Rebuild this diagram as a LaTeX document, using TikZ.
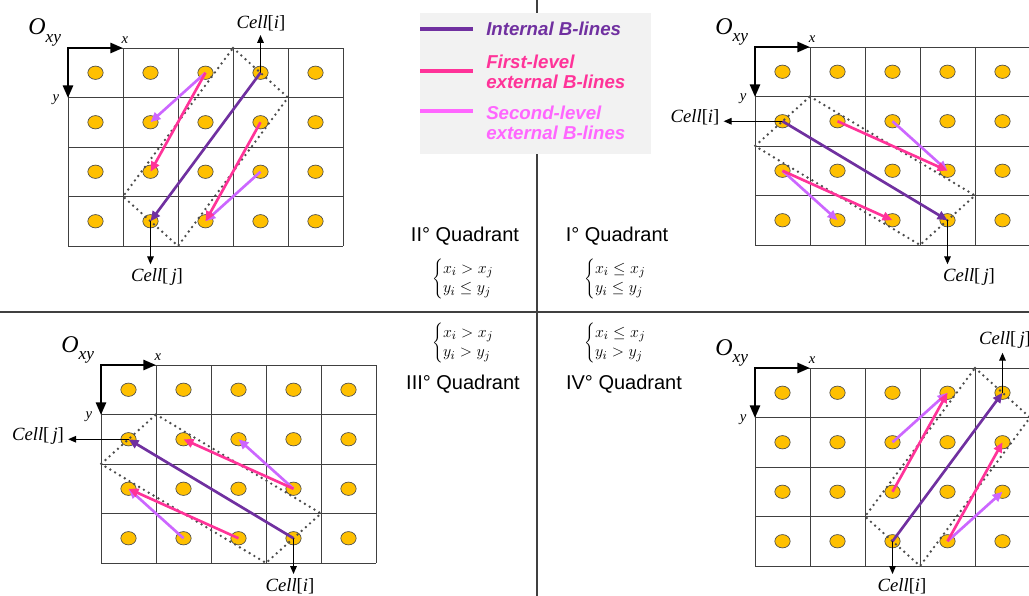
\documentclass[tikz,border=0pt]{standalone}
\usepackage{fontspec}
\setmainfont{Liberation Sans}
\newfontfamily\cellfont{Liberation Serif}
\usetikzlibrary{arrows.meta,shapes.geometric,positioning}

\definecolor{intline}{HTML}{7030A0}
\definecolor{firstline}{HTML}{FF3399}
\definecolor{secline}{HTML}{CC66FF}
\definecolor{sectext}{HTML}{FF66FF}
\definecolor{dotfill}{HTML}{FFC000}
\definecolor{legendbg}{HTML}{F2F2F2}

\tikzset{
    dot/.style={ellipse,draw=black!70,fill=dotfill,line width=0.5pt,
        minimum width=11.5pt,minimum height=10pt,inner sep=0pt},
    gridline/.style={black!75,line width=0.7pt},
    axis/.style={line width=2pt,
        {Triangle[length=9.5pt,width=7.5pt]}-{Triangle[length=9.5pt,width=7.5pt]}},
    axlabel/.style={font=\cellfont\itshape\fontsize{11}{12}\selectfont,inner sep=0pt},
    origin/.style={anchor=base west,inner sep=0pt,font=\cellfont\itshape\fontsize{18}{19}\selectfont},
    bbox/.style={black!70,line width=2pt,dash pattern=on 0pt off 4.2pt,line cap=round},
    blarrow/.style={line width=2pt,-{Triangle[length=7.5pt,width=6.5pt]}},
    intarrow/.style={blarrow,intline},
    firstarrow/.style={blarrow,firstline},
    secarrow/.style={blarrow,secline},
    cellarrow/.style={line width=0.8pt,-{Triangle[length=6pt,width=5pt]},shorten >=2pt},
    celllabel/.style={font=\cellfont\fontsize{14}{15}\selectfont,inner sep=1pt},
    quadlabel/.style={font=\fontsize{15}{16}\selectfont},
    cond/.style={anchor=west,inner sep=0pt,font=\fontsize{12.5}{14}\selectfont},
    legtext/.style={anchor=west,align=left,inner sep=0pt,
        font=\bfseries\itshape\fontsize{14}{15}\selectfont},
    divider/.style={black!75,line width=1.2pt}
}

% one 4x5 cell grid with its axes: name, left, top
\newcommand\cellgrid[3]{%
    \begin{scope}[shift={(#2,#3)}]
        \foreach \c in {0,...,5} \draw[gridline] (\c*55,0) -- (\c*55,198);
        \foreach \r in {0,...,4} \draw[gridline] (0,\r*49.5) -- (275,\r*49.5);
        \foreach \r in {0,...,4} \foreach \c in {0,...,5}
            \coordinate (#1-g\c\r) at (\c*55,\r*49.5);
        \foreach \r in {0,...,3} \foreach \c in {0,...,4}
            \node[dot] (#1-\r-\c) at (\c*55+27.5,\r*49.5+24.75) {};
        \coordinate (#1-o) at (0,0);
        \coordinate (#1-xt) at (55,0);
        \coordinate (#1-yt) at (0,50);
        \draw[axis] (#1-xt) -- (#1-o) -- (#1-yt);
        \node[axlabel] (#1-xl) at (57,-8) {x};
        \node[axlabel] (#1-yl) at (-12,52) {y};
        \node[origin] (#1-oxy) at (-40,-13) {O\raisebox{-0.3em}{\fontsize{13}{14}\selectfont xy}};
    \end{scope}}

\newcommand\celltext[1]{\textit{Cell}[\textit{#1}]}

\begin{document}
\begin{tikzpicture}[x=0.75pt,y=-0.75pt]
    \useasboundingbox (0,0) rectangle (1029,596);

    % quadrant dividers and legend
    \draw[divider] (537,0) -- (537,596);
    \draw[divider] (0,312) -- (1029,312);
    \fill[legendbg] (420,13) rectangle (651,154);
    \draw[intline,line width=2.3pt] (420,29) -- (473,29);
    \draw[firstline,line width=2.3pt] (420,71) -- (473,71);
    \draw[sectext,line width=2.3pt] (420,111) -- (473,111);
    \node[legtext,text=intline] (leg-int) at (486,29) {Internal B-lines};
    \node[legtext,text=firstline] (leg-first) at (486,72) {First-level\\external B-lines};
    \node[legtext,text=sectext] (leg-sec) at (486,123) {Second-level\\external B-lines};

    % quadrant names and conditions
    \node[quadlabel] (lab-q2) at (465,236) {II° Quadrant};
    \node[quadlabel] (lab-q1) at (617,236) {I° Quadrant};
    \node[quadlabel] (lab-q3) at (463,384) {III° Quadrant};
    \node[quadlabel] (lab-q4) at (624,384) {IV° Quadrant};
    \node[cond] (cond-q2) at (432,279) {$\def\arraystretch{1.05}\left\{\begin{array}{@{}l@{}}x_i > x_j\\ y_i \leq y_j\end{array}\right.$};
    \node[cond] (cond-q1) at (584,279) {$\def\arraystretch{1.05}\left\{\begin{array}{@{}l@{}}x_i \leq x_j\\ y_i \leq y_j\end{array}\right.$};
    \node[cond] (cond-q3) at (432,343) {$\def\arraystretch{1.05}\left\{\begin{array}{@{}l@{}}x_i > x_j\\ y_i > y_j\end{array}\right.$};
    \node[cond] (cond-q4) at (584,343) {$\def\arraystretch{1.05}\left\{\begin{array}{@{}l@{}}x_i \leq x_j\\ y_i > y_j\end{array}\right.$};

    % II quadrant
    \cellgrid{q2}{68}{48}
    \draw[bbox] (q2-g30) -- (q2-g41) -- (q2-g24) -- (q2-g13) -- cycle;
    \node[celllabel] (q2-ci) at (261,23) {\celltext{i}};
    \node[celllabel] (q2-cj) at (157,277) {\celltext{\,j}};
    \draw[cellarrow] (q2-0-3.center) -- (q2-0-3 |- q2-ci.south);
    \draw[cellarrow] (q2-3-1.center) -- (q2-3-1 |- q2-cj.north);
    \draw[secarrow] (q2-0-2.center) -- (q2-1-1.center);
    \draw[secarrow] (q2-2-3.center) -- (q2-3-2.center);
    \draw[firstarrow] (q2-0-2.center) -- (q2-2-1.center);
    \draw[firstarrow] (q2-1-3.center) -- (q2-3-2.center);
    \draw[intarrow] (q2-0-3.center) -- (q2-3-1.center);

    % I quadrant
    \cellgrid{q1}{755}{47}
    \draw[bbox] (q1-g11) -- (q1-g43) -- (q1-g34) -- (q1-g02) -- cycle;
    \node[celllabel] (q1-ci) at (695,117) {\celltext{i}};
    \node[celllabel] (q1-cj) at (969,277) {\celltext{\,j}};
    \draw[cellarrow] (q1-1-0.center) -- (q1-1-0 -| q1-ci.east);
    \draw[cellarrow] (q1-3-3.center) -- (q1-3-3 |- q1-cj.north);
    \draw[secarrow] (q1-1-2.center) -- (q1-2-3.center);
    \draw[secarrow] (q1-2-0.center) -- (q1-3-1.center);
    \draw[firstarrow] (q1-1-1.center) -- (q1-2-3.center);
    \draw[firstarrow] (q1-2-0.center) -- (q1-3-2.center);
    \draw[intarrow] (q1-1-0.center) -- (q1-3-3.center);

    % III quadrant
    \cellgrid{q3}{101}{365}
    \draw[bbox] (q3-g11) -- (q3-g43) -- (q3-g34) -- (q3-g02) -- cycle;
    \node[celllabel] (q3-cj) at (38,436) {\celltext{\,j}};
    \node[celllabel] (q3-ci) at (290,586) {\celltext{i}};
    \draw[cellarrow] (q3-1-0.center) -- (q3-1-0 -| q3-cj.east);
    \draw[cellarrow] (q3-3-3.center) -- (q3-3-3 |- q3-ci.north);
    \draw[secarrow] (q3-2-3.center) -- (q3-1-2.center);
    \draw[secarrow] (q3-3-1.center) -- (q3-2-0.center);
    \draw[firstarrow] (q3-2-3.center) -- (q3-1-1.center);
    \draw[firstarrow] (q3-3-2.center) -- (q3-2-0.center);
    \draw[intarrow] (q3-3-3.center) -- (q3-1-0.center);

    % IV quadrant
    \cellgrid{q4}{755}{368}
    \draw[bbox] (q4-g40) -- (q4-g51) -- (q4-g34) -- (q4-g23) -- cycle;
    \node[celllabel] (q4-cj) at (1005,340) {\celltext{\,j}};
    \node[celllabel] (q4-ci) at (902,586) {\celltext{i}};
    \draw[cellarrow] (q4-0-4.center) -- (q4-0-4 |- q4-cj.south);
    \draw[cellarrow] (q4-3-2.center) -- (q4-3-2 |- q4-ci.north);
    \draw[secarrow] (q4-1-2.center) -- (q4-0-3.center);
    \draw[secarrow] (q4-3-3.center) -- (q4-2-4.center);
    \draw[firstarrow] (q4-2-2.center) -- (q4-0-3.center);
    \draw[firstarrow] (q4-3-3.center) -- (q4-1-4.center);
    \draw[intarrow] (q4-3-2.center) -- (q4-0-4.center);
\end{tikzpicture}
\end{document}
